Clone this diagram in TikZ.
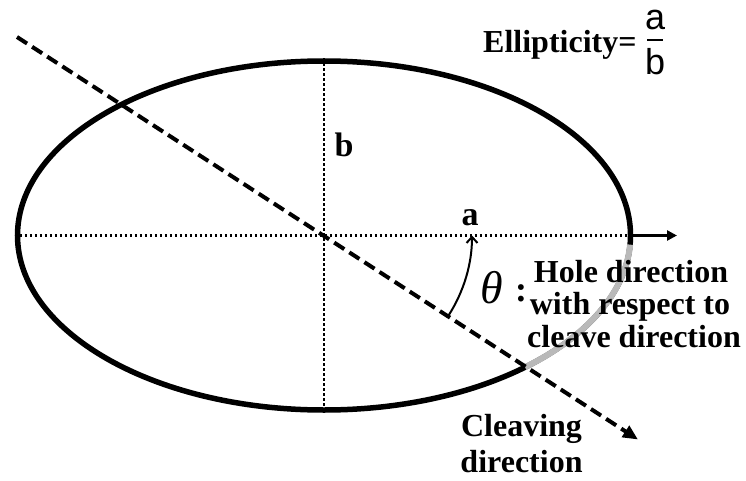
\documentclass[tikz,border=0pt]{standalone}
\usepackage{fontspec}
\setmainfont{Liberation Serif}
\newfontfamily\sansf{Liberation Sans}
\usetikzlibrary{shapes.geometric,arrows.meta}
\begin{document}
\begin{tikzpicture}[x=1pt,y=-1pt,
  lbl/.style={font=\fontsize{32}{34}\selectfont\bfseries, inner sep=0pt, anchor=base},
  dotline/.style={line width=2.5pt, dash pattern=on 2.5pt off 2.5pt},
  bigline/.style={line width=5.5pt},
  cleave/.style={line width=4pt, dash pattern=on 12pt off 6pt, -{Triangle[length=15pt,width=13pt]}},
  holearrow/.style={line width=2.5pt, -{Triangle[length=10pt,width=10pt]}},
  anglearrow/.style={line width=2pt, -{Straight Barb[length=6pt,width=11pt]}}
]
\useasboundingbox (0,0) rectangle (746,481);
\coordinate (O) at (324,235.5);
% ellipse
\node[ellipse, draw, bigline, minimum width=613pt, minimum height=349pt, inner sep=0pt] (E) at (O) {};
% grey part of the ellipse
\draw[gray!55, line width=6pt] (O) ++(3:306.5 and 174.5) arc[start angle=3, end angle=49, x radius=306.5, y radius=174.5];
% axes
\draw[dotline] (E.west) -- (E.east);
\draw[dotline] (E.north) -- (E.south);
% hole direction arrow
\coordinate (R) at (677,235.5);
\draw[holearrow] (E.east) -- (R);
% cleaving direction
\coordinate (D1) at (17,37);
\coordinate (D2) at (638,439.5);
\draw[cleave] (D1) -- (D2);
% angle theta
\draw[anglearrow] (O) ++(32.9:148) arc[start angle=32.9, end angle=0, radius=148];
% labels
\node[lbl, font=\fontsize{34}{34}\selectfont\bfseries] (la) at (470,225) {a};
\node[lbl, font=\fontsize{34}{34}\selectfont\bfseries] (lb) at (344,157) {b};
\node[inner sep=0pt, font=\fontsize{46}{46}\selectfont\itshape] (th) at (492,287.5) {θ};
\node[lbl, font=\fontsize{36}{36}\selectfont\bfseries] (colon) at (521,301) {:};
\node[lbl] (h1) at (631,282) {Hole direction};
\node[lbl] (h2) at (630,314.5) {with respect to};
\node[lbl] (h3) at (634,347) {cleave direction};
\node[lbl] (c1) at (521.5,436) {Cleaving};
\node[lbl] (c2) at (521.5,472) {direction};
\node[lbl, anchor=base west] (ell) at (483,53) {Ellipticity=};
\node[inner sep=0pt, anchor=base, font=\fontsize{36}{36}\selectfont\sansf] (fa) at (655,30) {a};
\node[inner sep=0pt, anchor=base, font=\fontsize{36}{36}\selectfont\sansf] (fb) at (655,75) {b};
\draw[line width=1.8pt] (647,40) -- (663,40);
\end{tikzpicture}
\end{document}
